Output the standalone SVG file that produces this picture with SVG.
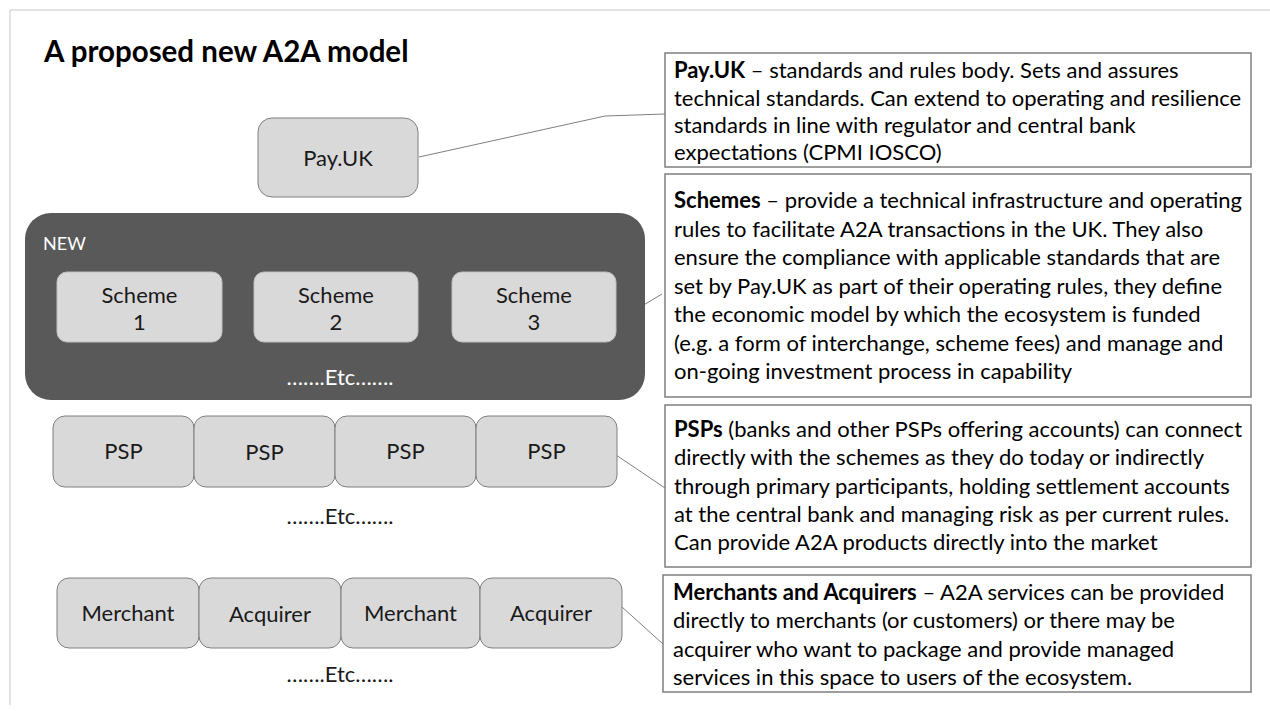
<svg xmlns="http://www.w3.org/2000/svg" width="1270" height="711" viewBox="0 0 1270 711">
<style>
.node{fill:#d9d9d9;stroke:#7f7f7f;stroke-width:1}
.snode{fill:#d9d9d9;stroke:#bfbfbf;stroke-width:1}
.lbl{font-family:Lato,"Liberation Sans",sans-serif;font-size:22px;fill:#1a1a1a;text-anchor:middle}
.etc{font-family:Lato,"Liberation Sans",sans-serif;font-size:22px;fill:#1a1a1a;text-anchor:middle}
.box{fill:#ffffff;stroke:#7f7f7f;stroke-width:1.5}
.desc{font-family:Lato,"Liberation Sans",sans-serif;font-size:22px;fill:#000}
.b{font-weight:bold}
.conn{fill:none;stroke:#7f7f7f;stroke-width:1}
</style>
<rect x="0" y="0" width="1270" height="711" fill="#ffffff"/>
<g id="frame">
<line x1="10" y1="10" x2="1270" y2="10" stroke="#c8c8c8" stroke-width="1"/>
<line x1="10" y1="10" x2="10" y2="705" stroke="#c8c8c8" stroke-width="1"/>
</g>
<text id="title" x="44" y="62" font-family="Lato,'Liberation Sans',sans-serif" font-size="29.5" font-weight="bold" fill="#000">A proposed new A2A model</text>

<g id="connectors">
<polyline class="conn" points="419,157 605,116 665,114"/>
<polyline class="conn" points="622,318 662,294"/>
<polyline class="conn" points="616,455 665,488"/>
<polyline class="conn" points="622,607 663,644"/>
</g>

<g id="payuk"><rect class="node" x="258" y="118" width="160" height="79" rx="14"/><text class="lbl" x="338" y="166">Pay.UK</text></g>

<g id="new-group">
<rect x="25" y="213" width="620" height="187" rx="26" fill="#595959"/>
<text x="43" y="250" font-family="Lato,'Liberation Sans',sans-serif" font-size="18" fill="#ffffff">NEW</text>
<text class="etc" x="340" y="385" style="fill:#ffffff">…….Etc…….</text>
</g>
<g id="scheme1"><rect class="snode" x="57" y="272" width="165" height="70" rx="10"/><text class="lbl" x="139.5" y="303">Scheme</text><text class="lbl" x="139.5" y="330">1</text></g>
<g id="scheme2"><rect class="snode" x="254" y="272" width="164" height="70" rx="10"/><text class="lbl" x="336" y="303">Scheme</text><text class="lbl" x="336" y="330">2</text></g>
<g id="scheme3"><rect class="snode" x="452" y="272" width="164" height="70" rx="10"/><text class="lbl" x="534" y="303">Scheme</text><text class="lbl" x="534" y="330">3</text></g>

<g id="psp1"><rect class="node" x="53" y="416" width="141" height="71" rx="12"/><text class="lbl" x="123.5" y="459">PSP</text></g>
<g id="psp2"><rect class="node" x="194" y="416" width="141" height="71" rx="12"/><text class="lbl" x="264.5" y="460">PSP</text></g>
<g id="psp3"><rect class="node" x="335" y="416" width="141" height="71" rx="12"/><text class="lbl" x="405.5" y="459">PSP</text></g>
<g id="psp4"><rect class="node" x="476" y="416" width="141" height="71" rx="12"/><text class="lbl" x="546.5" y="459">PSP</text></g>
<text id="etc-psp" class="etc" x="340" y="524">…….Etc…….</text>

<g id="merchant1"><rect class="node" x="57" y="578" width="142" height="70" rx="12"/><text class="lbl" x="128" y="621">Merchant</text></g>
<g id="acquirer1"><rect class="node" x="199" y="578" width="142" height="70" rx="12"/><text class="lbl" x="270" y="622">Acquirer</text></g>
<g id="merchant2"><rect class="node" x="341" y="578" width="139" height="70" rx="12"/><text class="lbl" x="410.5" y="621">Merchant</text></g>
<g id="acquirer2"><rect class="node" x="480" y="578" width="142" height="70" rx="12"/><text class="lbl" x="551" y="621">Acquirer</text></g>
<text id="etc-merch" class="etc" x="340" y="682">…….Etc…….</text>

<g id="desc-payuk">
<rect class="box" x="665" y="53" width="586" height="114"/>
<text class="desc" x="674" y="78"><tspan class="b">Pay.UK</tspan> – standards and rules body. Sets and assures</text>
<text class="desc" x="674" y="105.5">technical standards. Can extend to operating and resilience</text>
<text class="desc" x="674" y="133">standards in line with regulator and central bank</text>
<text class="desc" x="674" y="160">expectations (CPMI IOSCO)</text>
</g>
<g id="desc-schemes">
<rect class="box" x="665" y="174" width="586" height="223"/>
<text class="desc" x="674" y="208"><tspan class="b">Schemes</tspan> – provide a technical infrastructure and operating</text>
<text class="desc" x="674" y="237">rules to facilitate A2A transactions in the UK. They also</text>
<text class="desc" x="674" y="265">ensure the compliance with applicable standards that are</text>
<text class="desc" x="674" y="294">set by Pay.UK as part of their operating rules, they define</text>
<text class="desc" x="674" y="322">the economic model by which the ecosystem is funded</text>
<text class="desc" x="674" y="351">(e.g. a form of interchange, scheme fees) and manage and</text>
<text class="desc" x="674" y="379">on-going investment process in capability</text>
</g>
<g id="desc-psps">
<rect class="box" x="665" y="405" width="586" height="162"/>
<text class="desc" x="674" y="437"><tspan class="b">PSPs</tspan> (banks and other PSPs offering accounts) can connect</text>
<text class="desc" x="674" y="465">directly with the schemes as they do today or indirectly</text>
<text class="desc" x="674" y="494">through primary participants, holding settlement accounts</text>
<text class="desc" x="674" y="522">at the central bank and managing risk as per current rules.</text>
<text class="desc" x="674" y="550">Can provide A2A products directly into the market</text>
</g>
<g id="desc-merchants">
<rect class="box" x="663" y="575" width="588" height="117"/>
<text class="desc" x="673" y="600"><tspan class="b">Merchants and Acquirers</tspan> – A2A services can be provided</text>
<text class="desc" x="673" y="628">directly to merchants (or customers) or there may be</text>
<text class="desc" x="673" y="657">acquirer who want to package and provide managed</text>
<text class="desc" x="673" y="685">services in this space to users of the ecosystem.</text>
</g>
</svg>
